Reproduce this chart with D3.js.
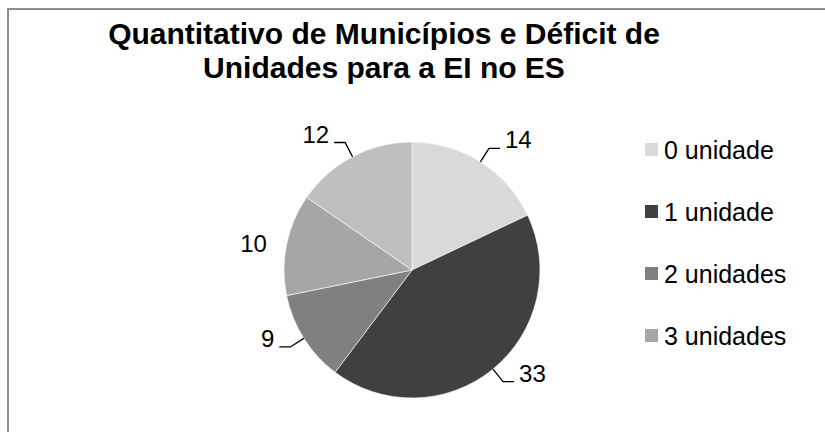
<!DOCTYPE html>
<html>
<head>
<meta charset="utf-8">
<script src="https://d3js.org/d3.v7.min.js"></script>
<style>
  body { margin: 0; background: #fff; }
  text { font-family: "Liberation Sans", Arial, sans-serif; fill: #000; }
</style>
</head>
<body>
<svg width="825" height="432"></svg>
<script>
// values (78 municipalities)
const categories = ['0 unidade', '1 unidade', '2 unidades', '3 unidades', '4 unidades'];
const values = [14, 33, 9, 10, 12];
const colors = ['#d9d9d9', '#404040', '#808080', '#a6a6a6', '#bfbfbf'];
const titleLines = ['Quantitativo de Municípios e Déficit de', 'Unidades para a EI no ES'];
const legendShown = 4; // the legend box is clipped after 4 entries

const svg = d3.select('svg');

// chart frame (runs off the right and bottom of the picture)
svg.append('rect')
  .attr('x', 8).attr('y', 9)
  .attr('width', 840).attr('height', 440)
  .attr('fill', 'none')
  .attr('stroke', '#8c8c8c')
  .attr('stroke-width', 2);

svg.append('g').selectAll('text')
  .data(titleLines)
  .enter().append('text')
  .attr('x', 384)
  .attr('y', (d, i) => 44 + i * 34)
  .attr('text-anchor', 'middle')
  .style('font-size', '30px')
  .style('font-weight', 'bold')
  .text(d => d);

const cx = 412, cy = 270, r = 128;
const data = categories.map((c, i) => ({cat: c, value: values[i], color: colors[i]}));

const pie = d3.pie().sort(null).value(d => d.value);
const arc = d3.arc().innerRadius(0).outerRadius(r);
const arcs = pie(data);

const g = svg.append('g').attr('transform', `translate(${cx},${cy})`);

g.selectAll('path')
  .data(arcs)
  .enter().append('path')
  .attr('d', arc)
  .attr('fill', d => d.data.color)
  .attr('stroke', '#fff')
  .attr('stroke-width', 0.6);

// data labels with Excel-like leader lines
const pt = (a, rad) => [rad * Math.sin(a), -rad * Math.cos(a)];

arcs.forEach(d => {
  const mid = (d.startAngle + d.endAngle) / 2;
  const right = Math.sin(mid) > 0;
  const s = right ? 1 : -1;
  const p = pt(mid, r);
  const e = pt(mid, 144);
  const lead = Math.abs(Math.sin(mid)) < 0.95;
  if (lead) {
    const h = [e[0] + s * 11, e[1]];
    g.append('polyline')
      .attr('points', [p, e, h].map(q => q.join(',')).join(' '))
      .attr('fill', 'none')
      .attr('stroke', '#000')
      .attr('stroke-width', 1.3);
    g.append('text')
      .attr('x', h[0] + s * 5)
      .attr('y', h[1])
      .attr('text-anchor', right ? 'start' : 'end')
      .style('font-size', '24px')
      .text(d.data.value);
  } else {
    g.append('text')
      .attr('x', e[0] + s * 4)
      .attr('y', e[1])
      .attr('dy', '0.45em')
      .attr('text-anchor', right ? 'start' : 'end')
      .style('font-size', '24px')
      .text(d.data.value);
  }
});

// legend
const legend = svg.append('g')
  .selectAll('g')
  .data(data.slice(0, legendShown))
  .enter().append('g')
  .attr('transform', (d, i) => `translate(645,${150 + i * 62})`);

legend.append('rect')
  .attr('x', 0).attr('y', -7)
  .attr('width', 13).attr('height', 13)
  .attr('fill', d => d.color);

legend.append('text')
  .attr('x', 19)
  .attr('y', 0)
  .attr('dy', '0.36em')
  .style('font-size', '25px')
  .text(d => d.cat);
</script>
</body>
</html>
